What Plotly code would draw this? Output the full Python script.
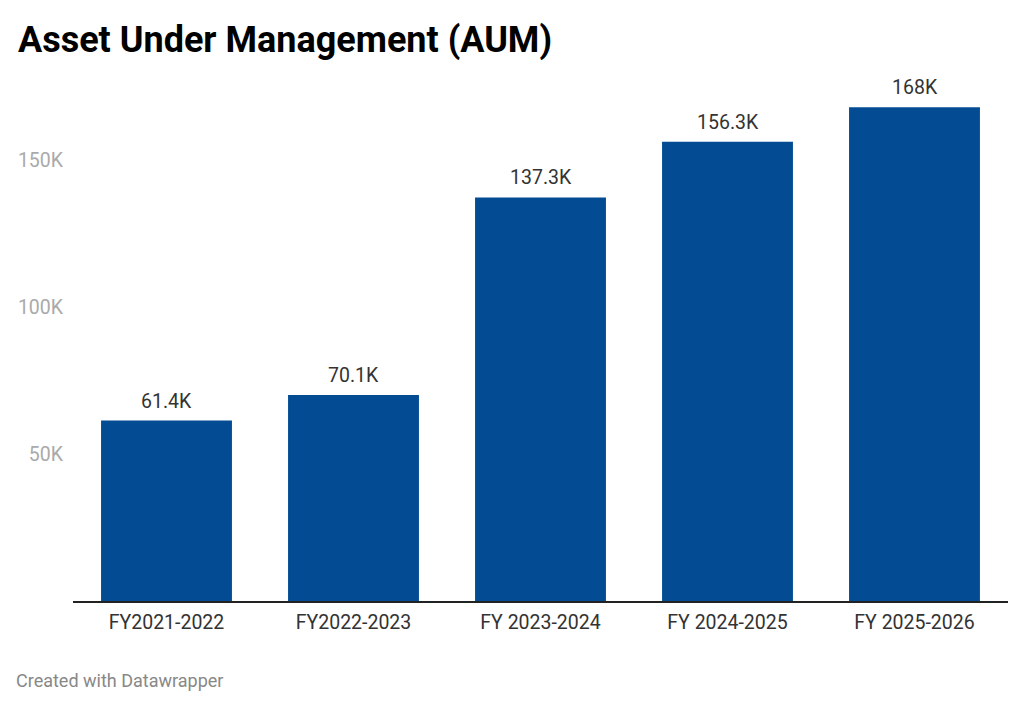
import plotly.graph_objects as go

# data
years = ["FY2021-2022", "FY2022-2023", "FY 2023-2024", "FY 2024-2025", "FY 2025-2026"]
aum = [61400, 70100, 137300, 156300, 168000]
value_labels = ["61.4K", "70.1K", "137.3K", "156.3K", "168K"]
tick_vals = [50000, 100000, 150000]
tick_text = ["50K", "100K", "150K"]

bar_color = "#034c93"

fig = go.Figure()
fig.add_trace(go.Bar(
    x=years,
    y=aum,
    marker=dict(color=bar_color, line=dict(width=0)),
    width=0.7,
    hoverinfo="x+y",
))

# value labels above each bar
for yr, v, lab in zip(years, aum, value_labels):
    fig.add_annotation(
        x=yr, y=v, text=lab, showarrow=False,
        yanchor="bottom", yshift=6,
        font=dict(family="Roboto", size=19.5, color="#333333"),
    )

fig.add_annotation(
    text="<b>Asset Under Management (AUM)</b>",
    xref="paper", yref="paper", x=-0.061, y=1.0605,
    xanchor="left", yanchor="middle", showarrow=False,
    font=dict(family="Roboto", size=36, color="#000000"),
)
fig.add_annotation(
    text="Created with Datawrapper",
    xref="paper", yref="paper", x=-0.063, y=-0.151,
    xanchor="left", yanchor="middle", showarrow=False,
    font=dict(family="Roboto", size=18, color="#888888"),
)

# page body has an 8px margin, so the figure is drawn 8px smaller
fig.update_layout(
    width=1016,
    height=701,
    margin=dict(l=65, r=16, t=64, b=108),
    paper_bgcolor="white",
    plot_bgcolor="white",
    showlegend=False,
    bargap=0.3,
    xaxis=dict(
        showgrid=False,
        showline=True,
        linecolor="#222222",
        linewidth=1.5,
        ticks="",
        ticklabelstandoff=3,
        tickfont=dict(family="Roboto", size=19.5, color="#333333"),
        automargin=False,
        fixedrange=True,
    ),
    yaxis=dict(
        range=[0, 180000],
        tickvals=tick_vals,
        ticktext=tick_text,
        showgrid=False,
        zeroline=False,
        showline=False,
        ticks="",
        ticklabelstandoff=9,
        tickfont=dict(family="Roboto", size=19.5, color="#aaaaaa"),
        automargin=False,
        fixedrange=True,
    ),
)

fig.write_html("out.html")
